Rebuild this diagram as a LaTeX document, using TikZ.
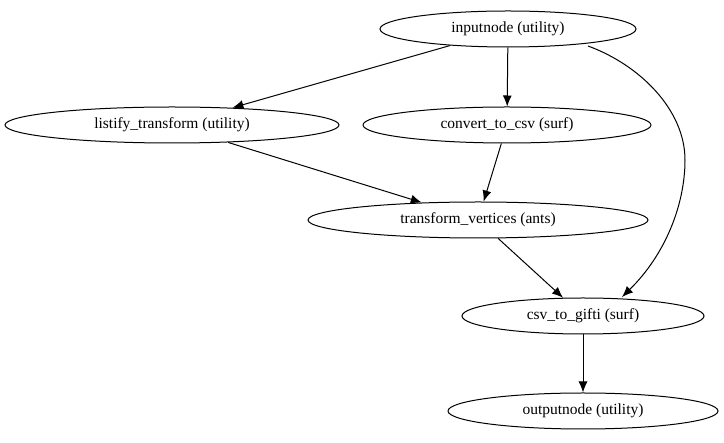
\documentclass[tikz,border=0pt]{standalone}
\usepackage{fontspec}
\setmainfont{Liberation Serif}
\usetikzlibrary{arrows.meta,shapes.geometric}
\begin{document}
\begin{tikzpicture}[x=1pt,y=-1pt,
  nd/.style={draw,ellipse,line width=1pt,minimum height=36pt,inner sep=0pt,font=\fontsize{15.5}{18}\selectfont},
  ed/.style={-{Latex[length=11pt,width=9pt]},line width=1pt}]
\useasboundingbox (0,0) rectangle (724,443);
\node[nd,minimum width=256pt] (in) at (508,29) {inputnode (utility)};
\node[nd,minimum width=334pt] (lt) at (172,125) {listify\_transform (utility)};
\node[nd,minimum width=288pt] (cc) at (507,125) {convert\_to\_csv (surf)};
\node[nd,minimum width=340pt] (tv) at (478,220) {transform\_vertices (ants)};
\node[nd,minimum width=242pt] (cg) at (583,316) {csv\_to\_gifti (surf)};
\node[nd,minimum width=270pt] (out) at (583,411) {outputnode (utility)};
\coordinate (a) at (588,46);
\coordinate (b) at (622,297);
\draw[ed] (a) .. controls (640,65) and (685,110) .. (685,160) .. controls (685,205) and (665,255) .. (b);
\draw[ed] (in) -- (lt);
\draw[ed] (in) -- (cc);
\draw[ed] (lt) -- (tv);
\draw[ed] (cc) -- (tv);
\draw[ed] (tv) -- (cg);
\draw[ed] (cg) -- (out);
\end{tikzpicture}
\end{document}
